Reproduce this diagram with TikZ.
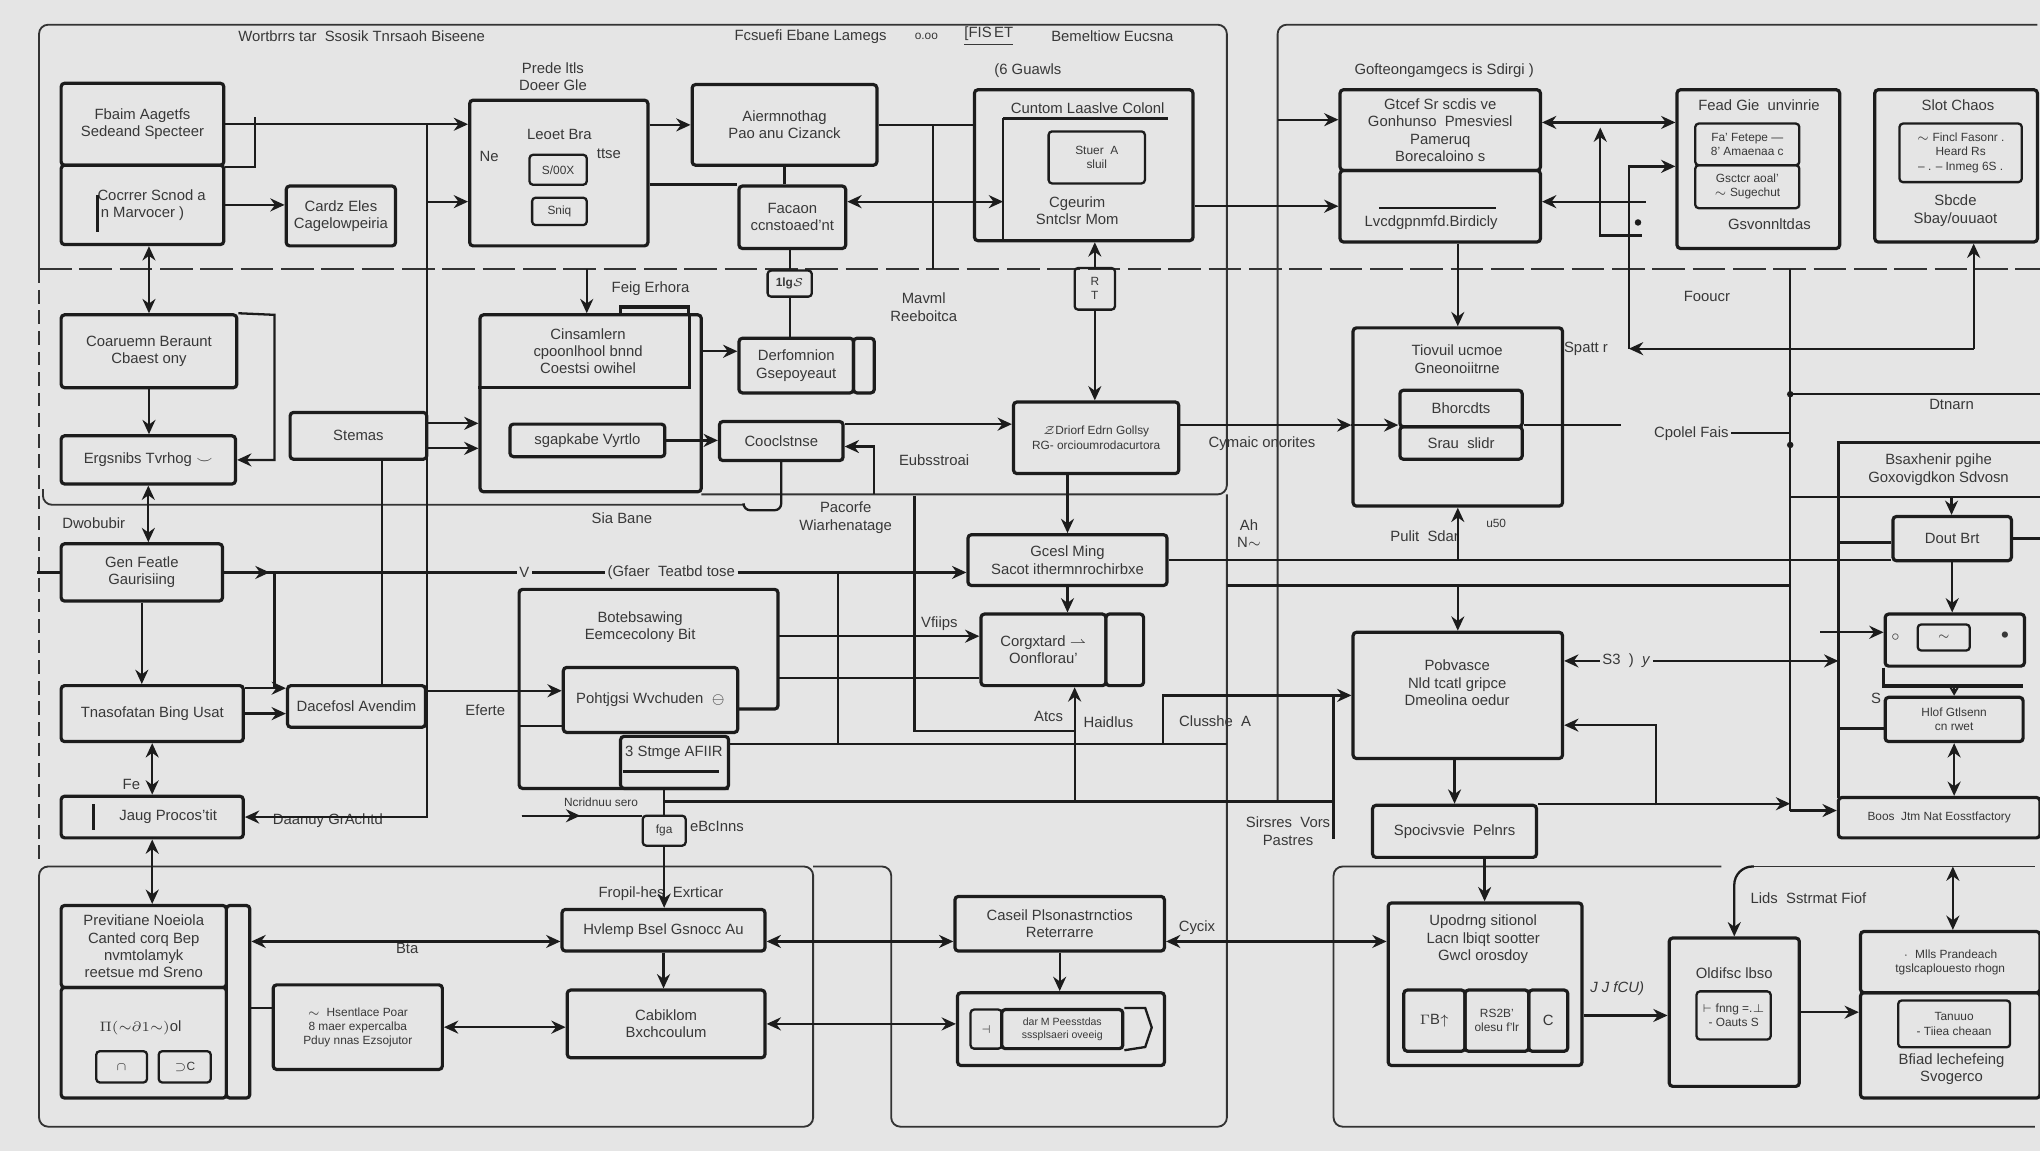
\documentclass[tikz,border=0pt]{standalone}
\usepackage{fontspec}
\setmainfont{Liberation Sans}
\usetikzlibrary{arrows.meta,calc}
\definecolor{ink}{HTML}{1C1C1C}
\definecolor{txt}{HTML}{383838}
\definecolor{paper}{HTML}{E5E5E5}
\newcommand\lbl{\fontsize{6.5}{7.6}\selectfont}
\newcommand\sml{\fontsize{5.2}{6.2}\selectfont}
\newcommand\tny{\fontsize{4.6}{5.4}\selectfont}
\tikzset{
  box/.style={draw=ink, line width=1.4pt, rounded corners=1.5pt, inner sep=0pt, align=center, text=txt, font=\lbl},
  sbox/.style={box, line width=1pt, font=\sml},
  lbl/.style={text=txt, font=\lbl, align=center, inner sep=1pt},
  wire/.style={draw=ink, line width=1pt},
  ar/.style={wire, -{Stealth[length=2.2mm,width=2mm]}},
  sar/.style={wire, -{Stealth[length=1.4mm,width=1.6mm]}},
  dar/.style={wire, {Stealth[length=2.2mm,width=2mm]}-{Stealth[length=2.2mm,width=2mm]}},
  outline/.style={draw=ink!90, line width=0.8pt, rounded corners=4pt},
}
\begin{document}
\begin{tikzpicture}[x=0.2mm, y=-0.2mm]

  \def\px{0.2mm}
  \def\bx#1#2#3#4#5#6#7{\node[#1, minimum width={(#5-#3)*\px}, minimum height={(#6-#4)*\px}] (#2) at ({(#3+#5)/2},{(#4+#6)/2}) {#7};}

  \fill[paper] (0,0) rectangle (1568,885);
  \useasboundingbox (0,0) rectangle (1568,885);

  %frames
  \draw[outline] (30,207) -- (30,19) -- (943,19) -- (943,380) -- (539,380);
  \draw[outline, dash pattern=on 6pt off 3pt] (30,207) -- (30,662);
  \draw[outline] (33,376) |- (571,388);
  \draw[outline] (30,666) rectangle (625,866);
  \draw[outline] (625,666) -- (685,666) -- (685,866) -- (943,866) -- (943,380);
  \draw[outline] (982,616) -- (982,19) -- (1566,19);
  \draw[outline] (1323,666) -- (1025,666) -- (1025,866) -- (1564,866);
  \draw[outline] (1348,666) -- (1564,666);
  \draw[outline, dash pattern=on 5mm off 1.2mm] (30,207) -- (1568,207);

  %top row
  \bx{box}{b1a}{47}{64}{172}{127}{Fbaim Aagetfs\\Sedeand Specteer}
  \bx{box}{b1b}{47}{127}{172}{188}{\hspace{8pt}Cocrrer Scnod a\\n Marvocer )}
  \bx{box}{b2}{220}{143}{304}{189}{Cardz Eles\\Cagelowpeiria}
  \bx{box}{b3}{361}{77}{498}{189}{}
  \bx{sbox}{b3a}{407}{119}{451}{142}{S/00X}
  \bx{sbox}{b3b}{409}{152}{451}{173}{Sniq}
  \bx{box}{b4}{532}{65}{674}{127}{Aiermnothag\\Pao anu Cizanck}
  \bx{box}{b5}{568}{143}{650}{191}{Facaon\\ccnstoaed'nt}
  \bx{box}{b6}{749}{69}{917}{185}{}
  \bx{sbox}{b6a}{806}{101}{880}{141}{Stuer \ A\\sluil}
  \bx{sbox}{b7}{826}{206}{857}{238}{R\\T}
  \bx{box}{b8a}{1030}{69}{1184}{131}{Gtcef Sr scdis ve\\Gonhunso \ Pmesviesl\\Pameruq\\Borecaloino s}
  \bx{box}{b8b}{1030}{131}{1184}{186}{}
  \bx{box}{b9}{1289}{69}{1414}{191}{}
  \bx{sbox}{b9a}{1303}{95}{1383}{127}{Fa' Fetepe ---\\8' Amaenaa c}
  \bx{sbox}{b9b}{1303}{127}{1383}{160}{Gsctcr aoal'\\$\sim$ Sugechut}
  \bx{box}{b10}{1441}{69}{1566}{186}{}
  \bx{sbox}{b10a}{1460}{95}{1554}{140}{$\sim$ Fincl Fasonr .\\Heard Rs\\-- . -- Inmeg 6S .}
  \bx{sbox}{tig}{590}{208}{624}{228}{\textbf{1lg}$\mathcal{S}$}

  %middle row
  \bx{box}{b11}{47}{242}{182}{298}{Coaruemn Beraunt\\Cbaest ony}
  \bx{box}{b12}{47}{335}{181}{372}{Ergsnibs Tvrhog $\smile$}
  \bx{box}{b13}{223}{317}{328}{353}{Stemas}
  \bx{box}{b14}{369}{242}{539}{378}{}
  \bx{box}{b14i}{392}{326}{511}{351}{sgapkabe Vyrtlo}
  \bx{box}{b15}{568}{260}{656}{302}{Derfomnion\\Gsepoyeaut}
  \bx{box}{b15r}{656}{260}{672}{302}{}
  \bx{box}{b16}{553}{324}{648}{354}{Cooclstnse}
  \bx{box,font=\sml}{b17}{779}{309}{906}{364}{$\mathcal{Z}$Driorf Edrn Gollsy\\RG- orcioumrodacurtora}
  \bx{box}{b18}{1040}{252}{1201}{389}{}
  \bx{box}{b18a}{1076}{300}{1170}{328}{Bhorcdts}
  \bx{box}{b18b}{1076}{328}{1170}{353}{Srau \ slidr}
  \bx{box}{b19}{744}{411}{897}{450}{Gcesl Ming\\Sacot ithermnrochirbxe}
  \bx{box}{b20}{47}{418}{171}{462}{Gen Featle\\Gaurisiing}
  \bx{box}{b21}{47}{527}{187}{570}{Tnasofatan Bing Usat}
  \bx{box}{b22}{221}{527}{327}{559}{Dacefosl Avendim}
  \bx{box}{b24}{433}{513}{567}{563}{Pohtjgsi Wvchuden \ $\ominus$}
  \bx{box}{b25}{477}{566}{560}{606}{}
  \bx{box}{b26}{1040}{486}{1201}{583}{}
  \bx{box}{b27}{754}{472}{850}{527}{Corgxtard $\rightharpoonup$\\Oonflorau'}
  \bx{box}{b27r}{850}{472}{879}{527}{}
  \bx{box}{b28}{1055}{619}{1181}{659}{Spocivsvie \ Pelnrs}
  \bx{box}{b37}{47}{612}{187}{644}{\hspace{14pt}Jaug Procos'tit}
  \bx{sbox}{gpa}{494}{627}{527}{650}{fga}

  %right column
  \bx{box}{b39}{1455}{397}{1546}{431}{Dout Brt}
  \bx{box}{b40}{1449}{472}{1556}{512}{}
  \bx{sbox}{b40i}{1474}{480}{1514}{500}{$\sim$}
  \bx{box,font=\sml}{b41}{1449}{536}{1555}{570}{Hlof Gtlsenn\\cn rwet}
  \bx{box,font=\sml}{b42}{1413}{613}{1568}{644}{Boos \ Jtm Nat Eosstfactory}

  %bottom row
  \bx{box}{b29}{1067}{694}{1216}{819}{}
  \bx{box}{b29a}{1079}{761}{1126}{808}{$\Gamma$B$\uparrow$}
  \bx{box,font=\sml}{b29b}{1126}{761}{1175}{808}{RS2B'\\olesu f'lr}
  \bx{box}{b29c}{1175}{761}{1205}{808}{C}
  \bx{box}{b31}{734}{689}{895}{731}{Caseil Plsonastrnctios\\Reterrarre}
  \bx{box}{b32}{736}{763}{895}{819}{}
  \bx{sbox}{b32a}{746}{776}{770}{806}{$\dashv$}
  \bx{box,font=\tny}{b32b}{770}{776}{863}{806}{dar M Peesstdas\\sssplsaeri oveeig}
  \bx{box}{b33}{432}{699}{588}{731}{Hvlemp Bsel Gsnocc Au}
  \bx{box}{b34}{436}{761}{588}{813}{Cabiklom\\Bxchcoulum}
  \bx{box,font=\sml}{b35}{210}{757}{340}{822}{$\sim$ \ Hsentlace Poar\\8 maer expercalba\\Pduy nnas Ezsojutor}
  \bx{box}{b36a}{47}{696}{174}{759}{Previtiane Noeiola\\Canted corq Bep\\nvmtolamyk\\reetsue md Sreno}
  \bx{box}{b36b}{47}{759}{174}{844}{}
  \bx{box}{b36c}{174}{696}{192}{844}{}
  \bx{sbox}{b36d}{74}{808}{113}{832}{$\cap$}
  \bx{sbox}{b36e}{122}{808}{162}{832}{$\supset$C}
  \bx{box}{b43}{1283}{721}{1383}{835}{}
  \bx{sbox}{b43i}{1304}{762}{1361}{799}{$\vdash$ fnng =.$\perp$\\- Oauts S}
  \bx{box,font=\sml}{b44a}{1430}{716}{1568}{763}{$\cdot$ \ Mlls Prandeach\\tgslcaplouesto rhogn}
  \bx{box}{b44b}{1430}{763}{1568}{844}{}
  \bx{sbox}{b44i}{1459}{769}{1545}{805}{Tanuuo\\- Tiiea cheaan}

  %inner strokes
  \draw[wire] (b1a.south east) -- ++(23,0) -- ++(0,-38);
  \draw[ink, line width=1pt] (75,150) -- (75,178);
  \draw[wire] (771,91) -- (898,91);
  \draw[wire] (771,91) -- (771,185);
  \draw[wire] (1060,160) -- (1150,160);
  \draw[ink, line width=1.4pt] (b14.west |- 0,298) -- (530,298) -- (530,242);
  \draw[ink, line width=1.4pt] (477,242) |- (529,236) -- (529,242);
  \draw[ink, line width=1.4pt, rounded corners=1.5pt] (567,545) -- (598,545) -- (598,453) -- (399,453) -- (399,606) -- (560,606);
  \draw[wire] (479,593) -- (553,593);
  \draw[ink, line width=1.4pt] (72,618) -- (72,638);
  \draw[ink, line width=1.4pt] (1568,340) -- (1413,340) -- (1413,613);
  \draw[ink, line width=1.4pt] (b40.south west) -- ++(0,14) -- ++(107,0);
  \draw[wire] (b32b.north east) -- ++(16,0) -- ++(5,15) -- ++(-5,15) -- (b32b.south east);

  %labels
  \foreach \x/\y/\t/\name in {278/28/{Wortbrrs tar \ Ssosik Tnrsaoh Biseene}/tl1, 623/28/{Fcsuefi Ebane Lamegs}/tl2,
      712/28/{\sml o.oo}/tl3, 760/28/{\underline{[FIS\,ET}}/tl4, 855/28/{Bemeltiow Eucsna}/tl5,
      790/54/{(6 Guawls}/tl6, 1110/54/{Gofteongamgecs is Sdirgi )}/tl7,
      425/59/{Prede ltls\\Doeer Gle}/lb1, 430/103/{Leoet Bra}/lb2, 376/120/{Ne}/lb3, 468/118/{ttse}/lb4,
      836/83/{Cuntom Laaslve Colonl}/lb5, 828/162/{Cgeurim\\Sntclsr Mom}/lb6, 1100/171/{Lvcdgpnmfd.Birdicly}/lb7,
      1352/81/{Fead Gie \ unvinrie}/lb8, 1360/172/{Gsvonnltdas}/lb9, 1505/81/{Slot Chaos}/lb10,
      1503/162/{Sbcde\\Sbay/ouuaot}/lb11, 500/222/{Feig Erhora}/lb12, 710/236/{Mavml\\Reeboitca}/lb13,
      1312/228/{Fooucr}/lb14, 1219/268/{Spatt r}/lb15, 1500/311/{Dtnarn}/lb16, 970/341/{Cymaic onorites}/lb17,
      718/354/{Eubsstroai}/lb18, 452/270/{Cinsamlern\\cpoonlhool bnnd\\Coestsi owihel}/lb19,
      1120/276/{Tiovuil ucmoe\\Gneonoiitrne}/lb20, 478/398/{Sia Bane}/lb21, 650/398/{Pacorfe\\Wiarhenatage}/lb22,
      72/402/{Dwobubir}/lb23, 960/410/{Ah\\N$\sim$}/lb24, 1095/412/{Pulit \ Sdar}/lb25, 1150/402/{\sml u50}/lb26,
      722/479/{Vfiips}/lb27, 492/482/{Botebsawing\\Eemcecolony Bit}/lb28,
      1120/525/{Pobvasce\\Nld tcatl gripce\\Dmeolina oedur}/lb29, 373/546/{Eferte}/lb30, 806/551/{Atcs}/lb31,
      852/555/{Haidlus}/lb32, 934/554/{Clusshe \ A}/lb33, 518/579/{3 Stmge AFIIR}/lb34, 1442/537/{S}/lb35,
      101/603/{Fe}/lb36, 252/631/{Daanuy GrAchtd}/lb37, 462/617/{\sml Ncridnuu sero}/lb38, 551/635/{eBcInns}/lb39,
      990/639/{Sirsres \ Vors\\Pastres}/lb40, 508/687/{Fropil-hes \ Exrticar}/lb41, 313/729/{Bta}/lb42,
      920/713/{Cycix}/lb43, 1390/690/{Lids \ Sstrmat Fiof}/lb44, 1243/760/{\itshape J J fCU)}/lb45,
      1140/722/{Upodrng sitionol\\Lacn lbiqt sootter\\Gwcl orosdoy}/lb46, 1333/748/{Oldifsc lbso}/lb47,
      1500/822/{Bfiad lechefeing\\Svogerco}/lb48, 1490/361/{Bsaxhenir pgihe\\Goxovigdkon Sdvosn}/lb49,
      108/790/{$\Pi({\sim}\partial 1{\sim})$ol}/lb50, 1457/490/{$\circ$}/lb51, 1541/488/{$\bullet$}/lb52}{
    \node[lbl] (\name) at (\x,\y) {\t};
  }
  \node[lbl] (vl) at (403,440) {V};
  \node[lbl] (gf) at (516,440) {(Gfaer \ Teatbd tose};
  \node[lbl] (sy) at (1250,508) {S3 \ ) \ \textit{y}};
  \node[lbl] (cf) at (1300,333) {Cpolel Fais};

  %connectors top
  \coordinate (j1) at (328,95.5);
  \coordinate (j2) at (328,155);
  \coordinate (j3) at (717,96);
  \coordinate (b6in) at (771,155);
  \coordinate (f1) at (982,92);
  \draw[ar] (b1a.east) -- (b1a.east -| b3.west);
  \draw[ar] (b1b.east) -- (b1b.east -| b2.west);
  \draw[ar] (j1) |- (b37.east);
  \draw[ar] (j2) -- (j2 -| b3.west);
  \draw[ar] (b3.east |- b4.west) -- (b4.west);
  \draw[wire] (b3.east |- b5.north west) -- (b5.north west);
  \draw[wire] (b5.north -| b4.south) -- (b4.south);
  \draw[wire] (b4.east) -- (b4.east -| b6.west);
  \draw[wire] (j3) -- (j3 |- 0,207);
  \draw[dar] (b5.east |- b6in) -- (b6in);
  \draw[wire] (tig.north) -- (tig.north |- b5.south);
  \draw[wire] (tig.south) -- (tig.south |- b15.north);
  \draw[ar] (b7.north) -- (b7.north |- b6.south);
  \draw[ar] (b7.south) -- (b7.south |- b17.north);
  \draw[ar] (b6.east |- b8b.west) -- (b8b.west);
  \draw[ar] (f1) -- (f1 -| b8a.west);
  \draw[ar] (b18.north |- b8b.south) -- (b18.north);
  \draw[dar] (b8a.east |- b9a.north) -- (b9.west |- b9a.north);

  \coordinate (s1) at (1252,268);
  \coordinate (s2) at (1517,268);
  \coordinate (s3) at (1265,155);
  \coordinate (s4) at (1262,181);
  \coordinate (s5) at (1230,98);
  \draw[ar] (s1) |- (b9.west |- b9a.south);
  \draw[ar] (s2) -- (s1);
  \draw[ar] (s2) -- (s2 |- b10.south);
  \draw[ar] (s3) -- (s3 -| b8b.east);
  \draw[ar] (s4) -| (s5);
  \fill[ink] (1259,171) circle (2.5);

  %connectors middle
  \coordinate (k1) at (211,242);
  \draw[dar] (b11.north |- b1b.south) -- (b11.north);
  \draw[ar] (b11.north east) -- (k1) |- (b12.east);
  \draw[ar] (b11.south) -- (b11.south |- b12.north);
  \draw[dar] (b12.south) -- (b12.south |- b20.north);
  \draw[wire] (b20.west) -- ++(-17,0);
  \draw[ar] (b20.south) -- (b20.south |- b21.north);
  \draw[dar] (b21.south) -- (b21.south |- b37.north);
  \draw[dar] (b37.south) -- (b37.south |- b36a.north);

  \path ($(b13.north east)!0.25!(b13.south east)$) coordinate (e1)
        ($(b13.north east)!0.75!(b13.south east)$) coordinate (e2)
        ($(b13.south west)!0.67!(b13.south east)$) coordinate (e3);
  \draw[ar] (e1) -- (e1 -| b14.west);
  \draw[ar] (e2) -- (e2 -| b14.west);
  \draw[wire] (e3) -- (e3 |- b22.north);
  \coordinate (d4) at (451,207);
  \draw[ar] (d4) -- (d4 |- b14.north);
  \coordinate (e4) at (539,270);
  \draw[ar] (e4) -- (e4 -| b15.west);
  \draw[ar] (b14i.east) -- (b14i.east -| b16.west);
  \path ($(b16.north east)!0.1!(b16.south east)$) coordinate (e5)
        ($(b16.north east)!0.63!(b16.south east)$) coordinate (e7);
  \draw[ar] (e5) -- (e5 -| b17.west);
  \coordinate (e6) at (672,380);
  \draw[ar] (e6) |- (e7);
  \draw[wire, rounded corners=3pt] (b16.south) -- ++(0,37) -- ++(-29,0) -- ++(0,-4);
  \path ($(b17.north east)!0.33!(b17.south east)$) coordinate (e8);
  \draw[ar] (e8) -- (e8 -| b18.west);
  \draw[ar] (e8 -| b18.west) -- (e8 -| b18a.west);
  \draw[wire] (e8 -| b18a.east) -- ++(75,0);
  \draw[ar] (b19.north |- b17.south) -- (b19.north);
  \draw[ar] (b19.east -| b18.south) -- (b18.south);
  \draw[wire] (b19.east) -- (b19.east -| b39.west);
  \coordinate (g1) at (943,450);
  \coordinate (g2) at (1376,450);
  \draw[wire] (g1) -- (g2);
  \draw[ar] (g1 -| b26.north) -- (b26.north);

  \draw[wire] (b20.east) -- (vl.west);
  \draw[ar] (b20.east) -- ++(35,0);
  \draw[wire] (vl.east) -- (gf.west);
  \draw[ar] (gf.east) -- (gf.east -| b19.west);
  \path ($(b21.north east)!0.07!(b21.south east)$) coordinate (e10);
  \coordinate (e11) at (211,440);
  \draw[wire] (e11) -- (e11 |- e10);
  \draw[ar] (e10) -- (e10 -| b22.west);
  \draw[ar] (b21.east) -- (b21.east -| b22.west);
  \path ($(b22.north east)!0.15!(b22.south east)$) coordinate (e13);
  \draw[ar] (e13) -- (e13 -| b24.west);

  \coordinate (o1) at (399,558);
  \coordinate (o2) at (598,489);
  \coordinate (o3) at (598,521);
  \coordinate (o4) at (943,572);
  \coordinate (o5) at (644,440);
  \coordinate (o6) at (703,381);
  \coordinate (o7) at (826,562);
  \draw[wire] (o1) -- (o1 -| b24.west);
  \draw[ar] (o2) -- (o2 -| b27.west);
  \draw[wire] (o3) -- (o3 -| b27.west);
  \draw[wire] (b25.east |- o4) -- (o4);
  \draw[wire] (o5) -- (o5 |- o4);
  \draw[wire] (o6) |- (o7);
  \draw[ar] (b19.south) -- (b19.south |- b27.north);

  \coordinate (p1) at (894,572);
  \coordinate (p2) at (1025,645);
  \coordinate (p3) at (826,616);
  \coordinate (p4) at (511,616);
  \draw[ar] (p3) -- (p3 |- b27.south);
  \draw[ar] (p1) |- (b26.west);
  \draw[wire] (p2) -- (p2 |- b26.west);
  \draw[wire] (p4) -- (p4 -| p2);
  \draw[wire] (b25.south -| gpa.north) -- (gpa.north);
  \draw[ar] (gpa.south) -- (gpa.south |- b33.north);
  \coordinate (t1) at (401,627);
  \draw[ar] (t1) -- ++(45,0);
  \draw[wire] (t1) -- (t1 -| gpa.west);
  \draw[ar] (b28.north |- b26.south) -- (b28.north);
  \path ($(b28.south west)!0.68!(b28.south east)$) coordinate (q1);
  \draw[ar] (q1) -- (q1 |- b29.north);

  %connectors right
  \coordinate (u0) at (1568,382);
  \coordinate (u1) at (1500,382);
  \coordinate (u2) at (1413,417);
  \coordinate (u3) at (1399,486);
  \coordinate (u4) at (1413,560);
  \coordinate (u5) at (1502,526);
  \coordinate (u6) at (1376,623);
  \coordinate (u8) at (1376,207);
  \coordinate (u9) at (1413,508);
  \coordinate (u10) at (1273,619);
  \coordinate (u12) at (1568,303);
  \draw[ar] (sy.west) -- (sy.west -| b26.east);
  \draw[ar] (sy.east) -- (u9);
  \path ($(b26.north east)!0.73!(b26.south east)$) coordinate (u11);
  \draw[ar] (u10) |- (u11);
  \draw[ar] (b28.north east) -- (u6 |- b28.north east);
  \draw[wire] (u8) -- (u6);
  \draw[ar] (u6) -- (u6 -| b42.west);
  \draw[wire] (u12 -| u8) -- (u12);
  \fill[ink] (u12 -| u8) circle (2.5);
  \fill[ink] (u8 |- 0,342) circle (2.5);
  \draw[wire] (cf.east) -- (cf.east -| u8);
  \draw[wire] (u0 -| u8) -- (u0);
  \draw[ar] (u1) -- (u1 |- b39.north);
  \draw[wire] (u2) -- (u2 -| b39.west);
  \draw[wire] (b39.east) -- ++(22,0);
  \draw[ar] (b39.south) -- (b39.south |- b40.north);
  \draw[ar] (u3) -- (u3 -| b40.west);
  \draw[sar] (u5) -- (u5 |- b41.north);
  \draw[wire] (u4) -- (u4 -| b41.west);
  \draw[dar] (b41.south) -- (b41.south |- b42.north);

  %connectors bottom
  \path ($(b33.north east)!0.75!(b33.south east)$) coordinate (r1);
  \path ($(b35.north west)!0.28!(b35.south west)$) coordinate (r2);
  \draw[dar] (r1 -| b36c.east) -- (r1 -| b33.west);
  \draw[dar] (r1) -- (r1 -| b31.west);
  \draw[dar] (r1 -| b31.east) -- (r1 -| b29.west);
  \draw[ar] (b33.south) -- (b33.south |- b34.north);
  \draw[dar] (b35.east) -- (b35.east -| b34.west);
  \draw[dar] (b34.east) -- (b34.east -| b32.west);
  \draw[wire] (r2 -| b36c.east) -- (r2);
  \draw[ar] (b31.south) -- (b31.south |- b32.north);
  \draw[ar] (b29.east |- b43i) -- (b43.west |- b43i);
  \draw[ar] (b43.east) -- (b43.east -| b44b.west);
  \coordinate (v1) at (1348,666);
  \coordinate (v2) at (1501,666);
  \draw[ar, rounded corners=8pt] (v1) -| (b43.north);
  \draw[dar] (v2) -- (v2 |- b44a.north);

\end{tikzpicture}
\end{document}
